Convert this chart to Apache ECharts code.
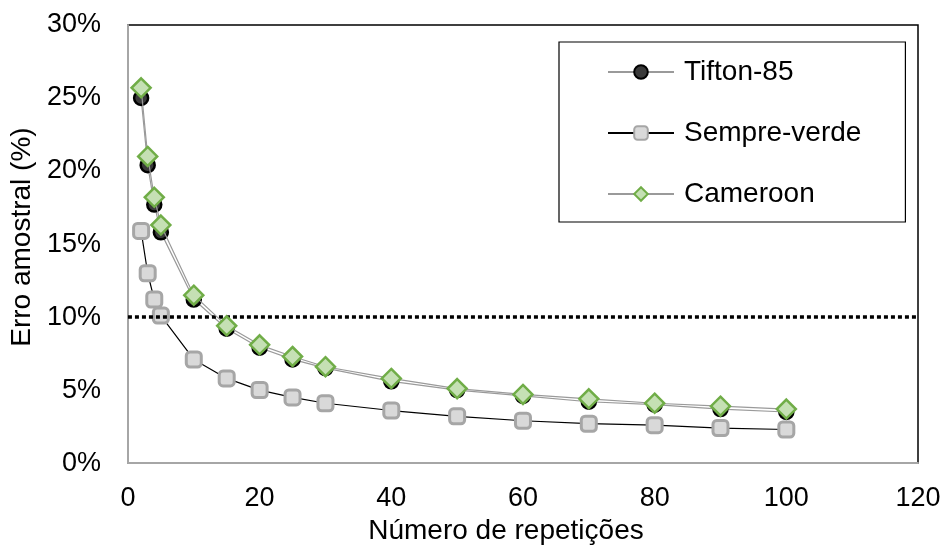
<!DOCTYPE html>
<html>
<head>
<meta charset="utf-8">
<script src="https://cdn.jsdelivr.net/npm/echarts@6/dist/echarts.min.js"></script>
<style>
  html, body { margin: 0; padding: 0; background: #fff; }
  #chart { width: 947px; height: 550px; }
</style>
</head>
<body>
<div id="chart"></div>
<script>
// Número de repetições
const repeticoes = [2, 3, 4, 5, 10, 15, 20, 25, 30, 40, 50, 60, 70, 80, 90, 100];

// Erro amostral (%) por cultivar
const tifton85   = [25.0, 20.4, 17.7, 15.8, 11.2, 9.2, 7.9, 7.1, 6.5, 5.6, 5.0, 4.6, 4.2, 4.0, 3.7, 3.5];
const sempreVerde = [15.9, 13.0, 11.2, 10.1, 7.1, 5.8, 5.0, 4.5, 4.1, 3.6, 3.2, 2.9, 2.7, 2.6, 2.4, 2.3];
const cameroon   = [25.7, 21.0, 18.2, 16.3, 11.5, 9.4, 8.1, 7.3, 6.6, 5.8, 5.1, 4.7, 4.4, 4.1, 3.9, 3.7];

// Limite de referência do erro amostral (%)
const limite = 10;

const serieNomes = ['Tifton-85', 'Sempre-verde', 'Cameroon'];

const pares = vals => repeticoes.map((x, i) => [x, vals[i]]);

const FONT = '"Liberation Sans", Arial, sans-serif';
const FS = 27;
const FS_NOME = 28;

const chart = echarts.init(document.getElementById('chart'), null, { renderer: 'canvas' });

chart.setOption({
  animation: false,
  backgroundColor: '#ffffff',
  textStyle: { fontFamily: FONT, color: '#000' },
  grid: {
    left: 127, right: 29, top: 25, bottom: 85,
    show: true, borderColor: '#000', borderWidth: 1.5, backgroundColor: 'transparent'
  },
  legend: {
    orient: 'vertical',
    left: 559, top: 42,
    padding: [16, 44, 14, 48],
    borderColor: '#000', borderWidth: 1.2,
    itemWidth: 66, itemHeight: 17, itemGap: 33,
    textStyle: { fontFamily: FONT, fontSize: FS_NOME, color: '#000', padding: [0, 0, 0, 5] },
    data: serieNomes
  },
  xAxis: {
    type: 'value', min: 0, max: 120, interval: 20,
    name: 'Número de repetições', nameLocation: 'middle', nameGap: 50,
    nameTextStyle: { fontFamily: FONT, fontSize: FS_NOME, color: '#000', padding: [0, 34, 0, 0] },
    axisLine: { show: true, lineStyle: { color: '#a6a6a6', width: 2 } },
    axisTick: { show: false },
    splitLine: { show: false },
    axisLabel: { fontFamily: FONT, fontSize: FS, color: '#000', margin: 22 }
  },
  yAxis: {
    type: 'value', min: 0, max: 30, interval: 5,
    name: 'Erro amostral (%)', nameLocation: 'middle', nameGap: 85,
    nameTextStyle: { fontFamily: FONT, fontSize: FS_NOME, color: '#000', padding: [0, 0, 0, 14] },
    axisLine: { show: true, lineStyle: { color: '#a6a6a6', width: 2 } },
    axisTick: { show: false },
    splitLine: { show: false },
    axisLabel: { fontFamily: FONT, fontSize: FS, color: '#000', margin: 27, formatter: '{value}%' }
  },
  series: [
    {
      name: 'Tifton-85',
      type: 'line',
      data: pares(tifton85),
      symbol: 'circle', symbolSize: 14,
      lineStyle: { color: '#9a9a9a', width: 1.2 },
      itemStyle: { color: '#3a3a3a', borderColor: '#000', borderWidth: 2.5 },
      z: 3,
      markLine: {
        silent: true, symbol: 'none',
        label: { show: false },
        lineStyle: { color: '#000', width: 3.5, type: [4, 3] },
        data: [{ yAxis: limite }]
      }
    },
    {
      name: 'Sempre-verde',
      type: 'line',
      data: pares(sempreVerde),
      symbol: 'roundRect', symbolSize: 15,
      lineStyle: { color: '#000', width: 1.2 },
      itemStyle: { color: '#d9d9d9', borderColor: '#a6a6a6', borderWidth: 3 },
      z: 4
    },
    {
      name: 'Cameroon',
      type: 'line',
      data: pares(cameroon),
      symbol: 'diamond', symbolSize: 19,
      lineStyle: { color: '#9a9a9a', width: 1.2 },
      itemStyle: { color: '#c5e0b4', borderColor: '#70ad47', borderWidth: 2.5 },
      z: 5
    }
  ]
});
</script>
</body>
</html>
